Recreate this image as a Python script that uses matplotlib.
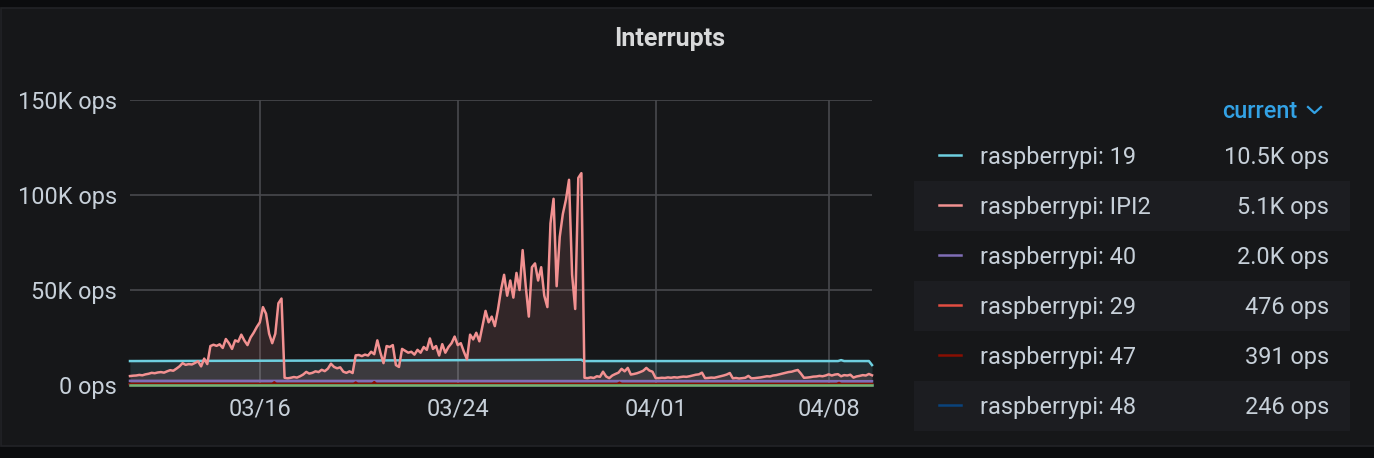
import matplotlib
matplotlib.use("Agg")
import matplotlib.pyplot as plt
import matplotlib.dates as mdates
from matplotlib.patches import Rectangle
from matplotlib.lines import Line2D
import pandas as pd

plt.rcParams['font.family'] = ['Roboto', 'DejaVu Sans']

# IPI2 interrupts (K ops), one reading every 3h from 03/10 18:00
ipi2 = [4.7, 4.9, 5.0, 5.3, 5.1, 5.6, 5.9, 6.4, 6.2, 6.6,
        6.8, 6.5, 7.2, 7.8, 7.5, 8.6, 9.8, 11.5, 10.6, 11.0,
        10.8, 11.6, 12.5, 9.8, 13.9, 11.0, 20.5, 21.2, 20.6, 21.4,
        19.5, 24.2, 22.0, 19.0, 23.5, 22.8, 26.5, 23.4, 21.0, 25.0,
        27.5, 30.5, 33.0, 41.0, 37.5, 27.0, 22.0, 27.0, 43.0, 45.5,
        3.8, 3.5, 3.8, 4.2, 3.9, 4.6, 5.5, 6.9, 6.0, 6.4,
        7.2, 6.8, 8.0, 7.3, 8.6, 11.2, 9.5, 8.8, 9.3, 7.0,
        6.4, 7.2, 6.3, 15.6, 15.8, 15.2, 16.0, 15.5, 17.5, 16.2,
        23.5, 17.0, 11.5, 20.5, 20.0, 21.0, 10.5, 9.5, 19.0, 18.0,
        17.0, 17.5, 16.0, 18.5, 17.0, 20.0, 18.5, 24.5, 19.0, 20.5,
        15.5, 21.5, 17.0, 20.0, 22.0, 25.5, 21.0, 22.0, 17.5, 13.5,
        26.5, 24.0, 27.5, 23.0, 31.0, 39.0, 33.0, 36.0, 31.0, 39.5,
        50.0, 58.0, 47.0, 55.0, 46.0, 59.0, 50.0, 71.0, 52.0, 36.0,
        62.0, 64.0, 55.0, 62.0, 47.0, 41.0, 85.0, 98.0, 52.0, 78.0,
        90.0, 97.5, 108.0, 58.0, 40.0, 109.0, 111.5,
        3.8, 3.6, 4.0,
        3.7, 4.6, 4.3, 7.0, 4.5, 3.6, 5.0, 5.8, 6.5, 8.5,
        7.2, 9.0, 5.5, 5.8, 6.2, 6.8, 7.5, 9.0, 7.6, 7.0,
        3.7, 3.6, 3.8, 3.7, 4.0, 3.8, 4.1, 3.9, 4.2, 4.4,
        4.3, 4.6, 5.0, 5.4, 5.6, 6.5, 3.6, 3.7, 3.9, 3.8,
        4.2, 4.6, 5.0, 5.5, 6.3, 3.5, 3.7, 3.4, 3.6, 3.8,
        4.8, 3.5, 3.6, 3.8, 4.0, 4.3, 4.6, 4.5, 5.0, 5.2,
        5.6, 6.0, 6.4, 6.8, 7.0, 7.5, 7.9, 6.0, 3.8, 3.9,
        4.1, 4.4, 4.5, 4.8, 4.6, 5.0, 5.6, 5.0, 5.5, 5.7,
        4.6, 5.2, 5.0, 5.4, 3.9, 4.5, 4.8, 5.2, 5.0, 5.8,
        5.1]
ipi2_time = pd.date_range("2021-03-10 18:00", periods=len(ipi2), freq="3h")

# flatter series, read at their change points
irq19_time = pd.to_datetime(["2021-03-10 18:00", "2021-03-20 00:00", "2021-03-29 00:00",
                             "2021-03-29 02:00", "2021-04-08 09:00", "2021-04-08 12:00",
                             "2021-04-08 15:00", "2021-04-09 15:00", "2021-04-09 18:00"])
irq19 = [12.6, 12.9, 13.3, 12.6, 12.6, 13.1, 12.6, 12.6, 10.5]

flat_time = pd.to_datetime(["2021-03-10 18:00", "2021-04-09 18:00"])
irq40 = [2.2, 2.0]
irq29 = [0.5, 0.48]
irq48 = [0.25, 0.25]
irq_other = [0.0, 0.0]

irq47_time = pd.to_datetime(["2021-03-10 18:00", "2021-03-16 12:00", "2021-03-16 14:00",
                             "2021-03-16 16:00", "2021-03-19 19:00", "2021-03-19 21:00",
                             "2021-03-19 23:00", "2021-03-20 13:00", "2021-03-20 15:00",
                             "2021-03-20 17:00", "2021-03-30 11:00", "2021-03-30 13:00",
                             "2021-03-30 15:00", "2021-04-08 08:00", "2021-04-08 10:00",
                             "2021-04-08 12:00", "2021-04-09 18:00"])
irq47 = [0.4, 0.4, 1.4, 0.4, 0.4, 1.3, 0.4, 0.4, 1.5, 0.4, 0.4, 1.2, 0.4, 0.4, 1.1, 0.4, 0.39]

legend_names = ["raspberrypi: 19", "raspberrypi: IPI2", "raspberrypi: 40",
                "raspberrypi: 29", "raspberrypi: 47", "raspberrypi: 48"]
legend_current = ["10.5K ops", "5.1K ops", "2.0K ops", "476 ops", "391 ops", "246 ops"]
colors = ["#6ed0e0", "#f29191", "#806eb7", "#e24d42", "#890f02", "#0a437c"]

y_ticks = [0, 50, 100, 150]
y_labels = ["0 ops", "50K ops", "100K ops", "150K ops"]
x_ticks = pd.to_datetime(["2021-03-16", "2021-03-24", "2021-04-01", "2021-04-08"])

W, H = 1374, 458
txt = "#c7d0d9"
fs = 16.9

fig = plt.figure(figsize=(W / 100, H / 100), dpi=100)
fig.patch.set_facecolor("#0b0c0e")
fig.patches.append(Rectangle((1 / W, 1 - 446 / H), 1.0, 438 / H, transform=fig.transFigure,
                             facecolor="#161719", edgecolor="#222327", lw=1.2, zorder=-2))

ax = fig.add_axes([130 / W, 1 - 385 / H, 742 / W, 285 / H])
ax.set_facecolor("none")

series = [(irq19_time, irq19), (ipi2_time, ipi2), (flat_time, irq40),
          (flat_time, irq29), (irq47_time, irq47), (flat_time, irq48)]
for (t, v), c in zip(series, colors):
    ax.fill_between(t, 0, v, color=c, alpha=0.13, lw=0)
    ax.plot(t, v, color=c, lw=1.8, clip_on=False, zorder=3)
ax.plot(flat_time, irq_other, color="#7eb26d", lw=1.8, clip_on=False, zorder=3)

ax.set_xlim(ipi2_time[0], ipi2_time[-1])
ax.set_ylim(0, 150)
ax.set_yticks(y_ticks)
ax.set_yticklabels(y_labels)
ax.set_xticks(x_ticks)
ax.xaxis.set_major_formatter(mdates.DateFormatter("%m/%d"))
ax.grid(True, color="#48494d", lw=1.2)
ax.set_axisbelow(True)
for s in ax.spines.values():
    s.set_visible(False)
ax.tick_params(length=0, colors=txt, labelsize=fs)
ax.tick_params(axis="y", pad=9.5)
ax.tick_params(axis="x", pad=9)

fig.text(670 / W, 1 - 46 / H, "Interrupts", ha="center", va="baseline",
         color="#d8d9da", fontsize=18, fontweight="bold")

# legend table
fig.text(1297 / W, 1 - 118 / H, "current", ha="right", va="baseline",
         color="#33a2e5", fontsize=fs, fontweight="medium")
fig.lines.append(Line2D([1308 / W, 1314.5 / W, 1321 / W], [1 - 107 / H, 1 - 113 / H, 1 - 107 / H],
                        transform=fig.transFigure, color="#33a2e5", lw=1.6))
for k, (name, cur, c) in enumerate(zip(legend_names, legend_current, colors)):
    cy = 155 + 50 * k
    if k % 2 == 1:
        fig.patches.append(Rectangle((914 / W, 1 - (cy + 26) / H), 436 / W, 50 / H,
                                     transform=fig.transFigure, facecolor="#1c1d21",
                                     lw=0, zorder=-1))
    fig.lines.append(Line2D([939 / W, 961 / W], [1 - cy / H, 1 - cy / H],
                            transform=fig.transFigure, color=c, lw=1.8))
    fig.text(980 / W, 1 - (cy + 9) / H, name, ha="left", va="baseline", color=txt, fontsize=fs)
    fig.text(1329 / W, 1 - (cy + 9) / H, cur, ha="right", va="baseline", color=txt, fontsize=fs)

fig.savefig("out.png", dpi=100, facecolor=fig.get_facecolor())
